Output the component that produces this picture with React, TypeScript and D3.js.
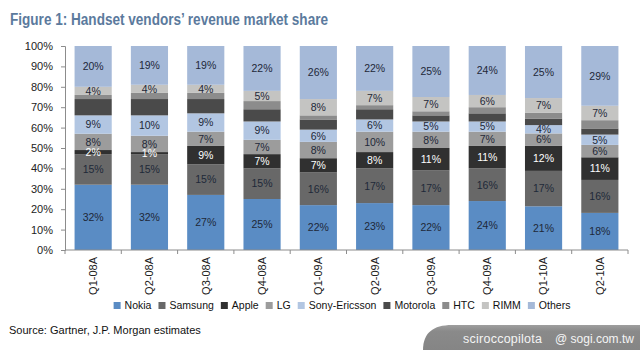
import React, { useEffect, useRef } from 'react';
import * as d3 from 'd3';

// Quarterly revenue share of handset vendors (%)
const quarters = ['Q1-08A', 'Q2-08A', 'Q3-08A', 'Q4-08A', 'Q1-09A', 'Q2-09A', 'Q3-09A', 'Q4-09A', 'Q1-10A', 'Q2-10A'];
const vendors = ['Nokia', 'Samsung', 'Apple', 'LG', 'Sony-Ericsson', 'Motorola', 'HTC', 'RIMM', 'Others'];

const nokia = [32, 32, 27, 25, 22, 23, 22, 24, 21, 18];
const samsung = [15, 15, 15, 15, 16, 17, 17, 16, 17, 16];
const apple = [2, 1, 9, 7, 7, 8, 11, 11, 12, 11];
const lg = [8, 8, 7, 7, 8, 10, 8, 7, 6, 6];
const sonyEricsson = [9, 10, 9, 9, 6, 6, 5, 5, 4, 5];
const motorola = [8, 8, 7, 6, 5, 5, 3, 4, 3, 3];
const htc = [2, 3, 3, 4, 2, 2, 2, 3, 3, 4];
const rimm = [4, 4, 4, 5, 8, 7, 7, 6, 7, 7];
const others = [20, 19, 19, 22, 26, 22, 25, 24, 25, 29];

const series = [nokia, samsung, apple, lg, sonyEricsson, motorola, htc, rimm, others];
const unlabelled = ['Motorola', 'HTC'];
const whiteLabels = ['Apple'];
const colors = ['#5a8cc4', '#686868', '#303030', '#9c9c9c', '#b2c6e2', '#4a4a4a', '#8c8c8c', '#c4c4c2', '#a5b9d8'];
const yTicks = [0, 0.1, 0.2, 0.3, 0.4, 0.5, 0.6, 0.7, 0.8, 0.9, 1];

const FONT = 'Arial, "Liberation Sans", sans-serif';

export default function App() {
  const svgRef = useRef<SVGSVGElement>(null);

  useEffect(() => {
    const width = 640, height = 350;
    const svg = d3.select(svgRef.current);
    svg.selectAll('*').remove();

    const margin = { top: 46, right: 12, bottom: 100, left: 65 };
    const innerWidth = width - margin.left - margin.right;
    const innerHeight = height - margin.top - margin.bottom;

    // rows for d3.stack
    const rows = quarters.map((q, i) => {
      const r: any = { quarter: q };
      vendors.forEach((v, j) => { r[v] = series[j][i]; });
      return r;
    });
    const stacked = d3.stack().keys(vendors).offset(d3.stackOffsetExpand)(rows);

    const x = d3.scaleBand().domain(quarters).range([0, innerWidth]).paddingInner(0.34).paddingOuter(0.17);
    const y = d3.scaleLinear().domain([0, 1]).range([innerHeight, 0]);
    const color = d3.scaleOrdinal<string>().domain(vendors).range(colors);

    // Title
    svg.append('text')
      .attr('x', 10).attr('y', 25)
      .attr('font-family', FONT).attr('font-weight', 'bold').attr('font-size', '16px')
      .attr('fill', '#5b7a9d')
      .attr('textLength', 318).attr('lengthAdjust', 'spacingAndGlyphs')
      .text('Figure 1: Handset vendors\u2019 revenue market share');

    const chart = svg.append('g').attr('transform', `translate(${margin.left},${margin.top})`);

    // Bars
    const layers = chart.selectAll('.layer')
      .data(stacked)
      .join('g')
        .attr('class', 'layer')
        .attr('fill', d => color(d.key));

    layers.selectAll('rect')
      .data(d => d)
      .join('rect')
        .attr('x', d => x(d.data.quarter)!)
        .attr('width', x.bandwidth())
        .attr('y', d => y(d[1]))
        .attr('height', d => y(d[0]) - y(d[1]));

    // Value labels
    stacked.filter(s => !unlabelled.includes(s.key)).forEach(s => {
      const idx = vendors.indexOf(s.key);
      chart.append('g')
        .selectAll('text')
        .data(s)
        .join('text')
          .attr('x', d => x(d.data.quarter)! + x.bandwidth() / 2)
          .attr('y', d => y((d[0] + d[1]) / 2))
          .attr('dy', '0.36em')
          .attr('text-anchor', 'middle')
          .attr('font-family', FONT)
          .attr('font-size', '10.5px')
          .attr('fill', whiteLabels.includes(s.key) ? '#ffffff' : '#1e2838')
          .text((d, i) => `${series[idx][i]}%`);
    });

    // Y axis
    const yAxis = chart.append('g')
      .call(d3.axisLeft(y).tickValues(yTicks).tickFormat(d3.format('.0%')).tickSize(4).tickPadding(8));
    yAxis.select('.domain').attr('stroke', '#8c8c8c');
    yAxis.selectAll('line').attr('stroke', '#8c8c8c');
    yAxis.selectAll('text').attr('font-family', FONT).attr('font-size', '11px').attr('fill', '#222');

    // X axis: line, ticks between categories, rotated labels
    const xAxis = chart.append('g').attr('transform', `translate(0,${innerHeight})`);
    xAxis.append('line')
      .attr('x1', 0).attr('x2', innerWidth)
      .attr('stroke', '#8c8c8c');
    xAxis.selectAll('.tick-line')
      .data(d3.range(quarters.length + 1))
      .join('line')
        .attr('class', 'tick-line')
        .attr('x1', i => i * x.step()).attr('x2', i => i * x.step())
        .attr('y1', 0).attr('y2', 4)
        .attr('stroke', '#8c8c8c');
    xAxis.selectAll('.x-label')
      .data(quarters)
      .join('text')
        .attr('class', 'x-label')
        .attr('transform', d => `translate(${x(d)! + x.bandwidth() / 2},7) rotate(-90)`)
        .attr('text-anchor', 'end')
        .attr('dy', '0.35em')
        .attr('font-family', FONT)
        .attr('font-size', '11px')
        .attr('fill', '#222')
        .text(d => d);

    // Legend, laid out from measured text widths
    const legend = svg.append('g');
    let cursor = 0;
    vendors.forEach(v => {
      const item = legend.append('g').attr('transform', `translate(${cursor},0)`);
      item.append('rect')
        .attr('x', 0).attr('y', -7).attr('width', 7).attr('height', 7)
        .attr('fill', color(v));
      const t = item.append('text')
        .attr('x', 11).attr('y', 0)
        .attr('font-family', FONT).attr('font-size', '10.5px').attr('fill', '#111')
        .text(v);
      const w = (t.node() as SVGTextElement).getComputedTextLength();
      cursor += 11 + w + 7;
    });
    const legendWidth = cursor - 7;
    legend.attr('transform', `translate(${342 - legendWidth / 2},309)`);

    // Source note
    svg.append('text')
      .attr('x', 9).attr('y', 334)
      .attr('font-family', FONT).attr('font-size', '11px').attr('fill', '#111')
      .text('Source: Gartner, J.P. Morgan estimates');

    // Watermark tab
    const defs = svg.append('defs');
    const grad = defs.append('linearGradient').attr('id', 'wm').attr('x1', 0).attr('y1', 0).attr('x2', 0).attr('y2', 1);
    grad.append('stop').attr('offset', '0%').attr('stop-color', '#9e9e9e');
    grad.append('stop').attr('offset', '25%').attr('stop-color', '#8a8a8a');
    grad.append('stop').attr('offset', '100%').attr('stop-color', '#858585');
    svg.append('path')
      .attr('d', 'M423,350 C423,333 433,325 452,325 L640,325 L640,350 Z')
      .attr('fill', 'url(#wm)');
    svg.append('text')
      .attr('x', 463).attr('y', 343)
      .attr('font-family', FONT).attr('font-size', '12.5px').attr('font-weight', 300)
      .attr('fill', '#f4f4f4')
      .attr('textLength', 79).attr('lengthAdjust', 'spacing')
      .text('sciroccopilota');
    svg.append('text')
      .attr('x', 555).attr('y', 343)
      .attr('font-family', FONT).attr('font-size', '13px')
      .attr('fill', '#f4f4f4')
      .attr('textLength', 79).attr('lengthAdjust', 'spacingAndGlyphs')
      .text('@ sogi.com.tw');
  }, []);

  return (
    <svg
      ref={svgRef}
      width={640}
      height={350}
      style={{ position: 'absolute', left: 0, top: 0, background: '#fff' }}
    />
  );
}
